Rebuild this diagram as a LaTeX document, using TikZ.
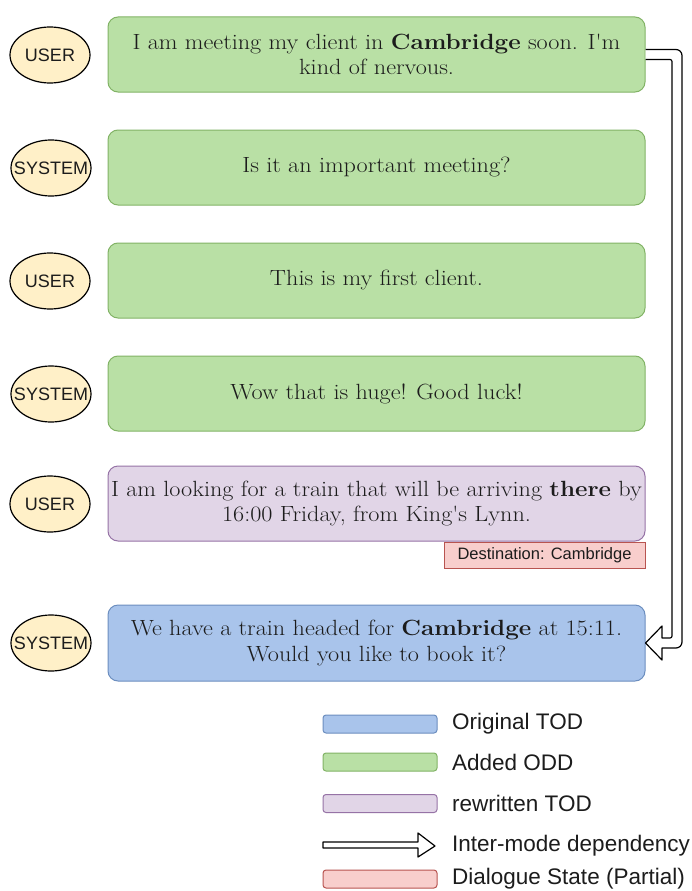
\documentclass[tikz,border=0pt]{standalone}
\usepackage{fontspec}
\newfontfamily\lsans{Liberation Sans}
\newfontfamily\bodyfont[FakeStretch=1.1]{Latin Modern Roman}
\usetikzlibrary{shapes.geometric,calc}
\definecolor{gfill}{HTML}{B9E0A5}
\definecolor{gline}{HTML}{82B366}
\definecolor{pfill}{HTML}{E1D5E7}
\definecolor{pline}{HTML}{9673A6}
\definecolor{bfill}{HTML}{A9C4EB}
\definecolor{bline}{HTML}{6C8EBF}
\definecolor{rfill}{HTML}{F8CECC}
\definecolor{rline}{HTML}{B85450}
\definecolor{sfill}{HTML}{FFF0C8}
\definecolor{txt}{HTML}{1C1C1C}
\begin{document}
\begin{tikzpicture}[x=1pt,y=-1pt,
  turn/.style={draw, rounded corners=10pt, minimum width=537pt, minimum height=75pt,
    align=center, inner sep=0pt, line width=1pt, text=txt,
    font=\bodyfont\fontsize{22}{25.5}\selectfont},
  oddbox/.style={turn, fill=gfill, draw=gline},
  rwbox/.style={turn, fill=pfill, draw=pline},
  todbox/.style={turn, fill=bfill, draw=bline},
  spk/.style={ellipse, draw=black, line width=1.2pt, fill=sfill, minimum width=80pt,
    minimum height=56pt, inner sep=0pt, text=txt, font=\lsans\fontsize{18}{18}\selectfont},
  swatch/.style={draw, rounded corners=3pt, line width=1pt, minimum width=114pt,
    minimum height=18pt, inner sep=0pt},
  legtext/.style={anchor=west, inner sep=0pt, text=txt, font=\lsans\fontsize{22.5}{22.5}\selectfont},
  depend/.style={draw=black, fill=white, line width=1.2pt, line join=round}
]
\useasboundingbox (0,0) rectangle (691,891);
\fill[white] (0,0) rectangle (691,891);

% speakers
\node[spk] (s1) at (50,55) {\makebox[0pt]{USER}};
\node[spk] (s2) at (51,168) {\makebox[0pt]{SYSTEM}};
\node[spk] (s3) at (50,281) {\makebox[0pt]{USER}};
\node[spk] (s4) at (51,394) {\makebox[0pt]{SYSTEM}};
\node[spk] (s5) at (50,504) {\makebox[0pt]{USER}};
\node[spk] (s6) at (51,643) {\makebox[0pt]{SYSTEM}};

% turns
\node[oddbox] (t1) at (376.5,54.5) {I am meeting my client in \textbf{Cambridge} soon. I'm\\kind of nervous.};
\node[oddbox] (t2) at (376.5,167.5) {Is it an important meeting?};
\node[oddbox] (t3) at (376.5,280.5) {This is my first client.};
\node[oddbox] (t4) at (376.5,393.5) {Wow that is huge! Good luck!};
\node[rwbox] (t5) at (376.5,503.5) {I am looking for a train that will be arriving \textbf{there} by\\16:00 Friday, from King's Lynn.};
\node[todbox, minimum height=76pt] (t6) at (376.5,643) {We have a train headed for \textbf{Cambridge} at 15:11.\\Would you like to book it?};

% dialogue state
\node[draw=rline, fill=rfill, line width=1pt, minimum width=201pt, minimum height=26pt,
  inner sep=0pt, text=txt, font=\lsans\fontsize{16.5}{16.5}\selectfont, anchor=north east]
  (ds) at (t5.south east) {Destination: Cambridge};

% inter-mode dependency arrow
\coordinate (rx) at (682,0);
\coordinate (ix) at (672,0);
\coordinate (hx) at (662,0);
\filldraw[depend]
  ([yshift=5pt]t1.east)
  [rounded corners=6pt] -- ([yshift=5pt]t1.east -| rx)
  -- ([yshift=-5pt]t6.east -| rx)
  [sharp corners] -- ([yshift=-5pt]t6.east -| hx)
  -- ([yshift=-17pt]t6.east -| hx)
  -- (t6.east)
  -- ([yshift=17pt]t6.east -| hx)
  -- ([yshift=5pt]t6.east -| hx)
  [rounded corners=2pt] -- ([yshift=5pt]t6.east -| ix)
  -- ([yshift=-5pt]t1.east -| ix)
  [sharp corners] -- ([yshift=-5pt]t1.east);

% legend
\node[swatch, fill=bfill, draw=bline] (k1) at (380,724) {};
\node[swatch, fill=gfill, draw=gline] (k2) at (380,762) {};
\node[swatch, fill=pfill, draw=pline] (k3) at (380,803.5) {};
\coordinate (k4) at (323,846);
\node[swatch, fill=rfill, draw=rline] (k5) at (380,879) {};
\node[legtext] (l1) at (452,724) {Original TOD};
\node[legtext] (l2) at (452,762) {Added ODD};
\node[legtext] (l3) at (452,803.5) {rewritten TOD};
\node[legtext] (l4) at (452,846) {Inter-mode dependency};
\node[legtext] (l5) at (452,879) {Dialogue State (Partial)};
\draw[depend] (k4) ++(0,-4) -- ++(95,0) -- ++(0,-9) -- ++(17,13) -- ++(-17,11)
  -- ++(0,-9) -- ++(-95,0) -- cycle;
\end{tikzpicture}
\end{document}
